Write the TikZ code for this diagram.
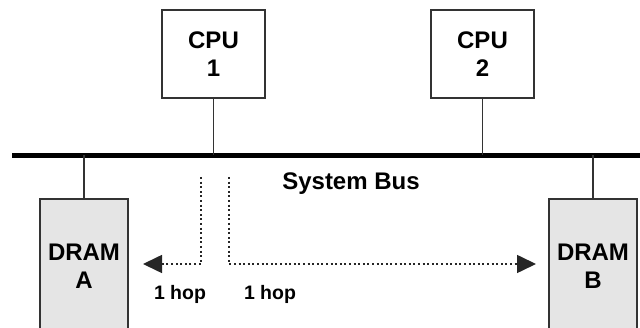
\documentclass[tikz,border=0pt]{standalone}
\usepackage{fontspec}
\setmainfont{Liberation Sans}
\usetikzlibrary{arrows.meta}
\tikzset{
  unit/.style={draw=black!80, line width=1.3pt, align=center, inner sep=0pt,
    font=\fontsize{24}{28}\selectfont\bfseries},
  cpubox/.style={unit, fill=white, minimum width=103pt, minimum height=88pt},
  drambox/.style={unit, fill=black!10, minimum width=88pt, minimum height=134pt},
  link/.style={draw=black!80, line width=1.3pt},
  bus/.style={draw=black, line width=5pt},
  hop/.style={dash pattern=on 2pt off 2.6pt, line width=1.6pt, black!85},
  hoptip/.style={-{Triangle[length=19pt,width=18pt]}},
  lbl/.style={inner sep=0pt, font=\fontsize{19.5}{23}\selectfont\bfseries}
}
\begin{document}
\begin{tikzpicture}[x=1pt,y=-1pt]
  \useasboundingbox (0,0) rectangle (640,328);
  % processors
  \node[cpubox] (cpu1) at (213.5,54) {CPU\\1};
  \node[cpubox] (cpu2) at (482.5,54) {CPU\\2};
  % memory banks
  \node[drambox] (drama) at (84,266) {DRAM\\A};
  \node[drambox] (dramb) at (593,266) {DRAM\\B};
  % shared bus
  \coordinate (busl) at (12,155.5);
  \coordinate (busr) at (640,155.5);
  \draw[bus] (busl) -- (busr);
  \node[inner sep=0pt, font=\fontsize{24}{28}\selectfont\bfseries] (buslbl) at (351,184) {System Bus};
  % attachments to the bus
  \draw[link] (cpu1.south) -- (cpu1.south |- busl);
  \draw[link] (cpu2.south) -- (cpu2.south |- busl);
  \draw[link] (drama.north) -- (drama.north |- busl);
  \draw[link] (dramb.north) -- (dramb.north |- busl);
  % access paths
  \coordinate (pa) at (201,177);
  \coordinate (pae) at (143,264);
  \coordinate (pb) at (229,177);
  \coordinate (pbe) at (536,264);
  \draw[hop, hoptip] (pa) |- (pae);
  \draw[hop, hoptip] (pb) |- (pbe);
  \node[lbl] (hopa) at (180,294) {1 hop};
  \node[lbl] (hopb) at (270,294) {1 hop};
\end{tikzpicture}
\end{document}
